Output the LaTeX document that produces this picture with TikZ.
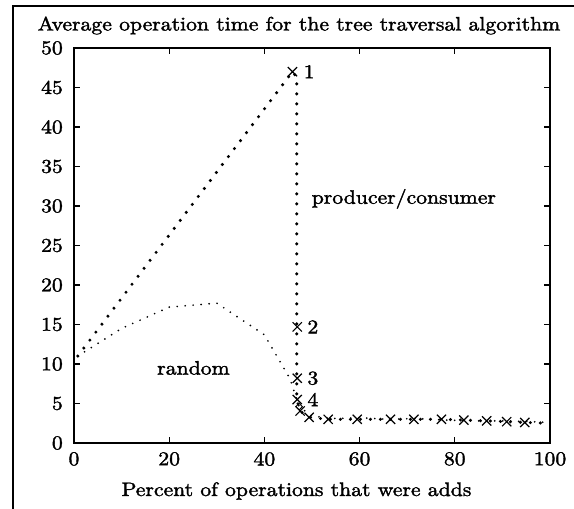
\documentclass[tikz,border=0pt]{standalone}
\usetikzlibrary{shapes.misc,shapes.geometric}
\newcommand\mylbl[1]{\scalebox{2.17}[1.95]{\special{pdf:literal direct 2 Tr 0.17 w}\fontsize{10}{12}\selectfont #1\special{pdf:literal direct 0 Tr}}}
\begin{document}
\begin{tikzpicture}[x=1pt,y=1pt,
  frameline/.style={line width=1.1pt},
  axisline/.style={line width=1.5pt},
  tickline/.style={line width=1.1pt},
  lbl/.style={inner sep=0pt},
  pcdots/.style={line width=3.4pt, line cap=round, dash pattern=on 0pt off 10pt},
  rddots/.style={line width=1.9pt, line cap=round, dash pattern=on 0pt off 8pt},
  xmark/.style={cross out, draw, minimum size=8pt, inner sep=0pt, line width=1.2pt},
  dmark/.style={diamond, draw, minimum size=7pt, inner sep=0pt, line width=0.9pt}]
\useasboundingbox (0,0) rectangle (574,509);
% outer frame
\draw[frameline] (13,0) -- (13,503) -- (574,503);
% title
\node[lbl, anchor=base] (title) at (299,478.5) {\mylbl{Average operation time for the tree traversal algorithm}};
% x label
\node[lbl, anchor=base] (xlabel) at (296.5,13) {\mylbl{Percent of operations that were adds}};
\begin{scope}[shift={(74pt,66pt)}, x=4.76pt, y=7.9pt]
  % axes box
  \draw[axisline] (0,0) rectangle (100,50);
  % ticks
  \foreach \t in {20,40,60,80} {
    \draw[tickline] (\t,0) -- ++(0,6pt);
    \draw[tickline] (\t,50) -- ++(0,-6pt);
  }
  \foreach \t in {5,10,...,45} {
    \draw[tickline] (0,\t) -- ++(6pt,0);
    \draw[tickline] (100,\t) -- ++(-6pt,0);
  }
  % tick labels
  \foreach \t in {0,5,...,50} {
    \node[lbl, anchor=east] (yl\t) at ([xshift=-11pt]0,\t) {\mylbl{\t}};
  }
  \foreach \t in {0,20,...,100} {
    \node[lbl, anchor=north] (xl\t) at ([yshift=-9pt]\t,0) {\mylbl{\t}};
  }
  % random curve
  \draw[rddots] (0.8,11.0) -- (10,14.5) -- (20,17.2) -- (30,17.7) -- (40,13.7)
     -- (45.4,8.1) -- (47.3,4.6) -- (50,3.4) -- (55,3.1) -- (60,3.2) -- (66,3.0)
     -- (72,3.1) -- (78,2.9) -- (84,2.8) -- (90,2.8) -- (96,2.7) -- (100,2.6);
  % producer/consumer curve
  \draw[pcdots] (0.8,11.0) -- (45.9,47.0) -- (46.8,46.3) -- (46.8,5.5) -- (47.5,4.05)
     -- (49.4,3.25) -- (53.4,3.0) -- (59.5,3.0) -- (66.5,3.0) -- (71.4,3.0) -- (77.2,3.0)
     -- (81.9,2.9) -- (86.7,2.8) -- (90.9,2.7) -- (94.7,2.6) -- (100,2.5);
  % markers
  \node[xmark] (m1) at (45.9,47.0) {};
  \node[xmark] (m2) at (46.9,14.7) {};
  \node[xmark] (m3) at (46.9,8.2) {};
  \node[xmark] (m4) at (46.9,5.5) {};
  \node[xmark] (m5) at (47.5,4.05) {};
  \node[xmark] (m6) at (49.4,3.25) {};
  \foreach \px/\py [count=\i from 7] in {53.4/3.0,59.5/3.0,66.5/3.0,71.4/3.0,77.2/3.0,81.9/2.9,86.7/2.8,90.9/2.7,94.7/2.6} {
    \node[xmark] (m\i) at (\px,\py) {};
  }
  \node[dmark] (d1) at (47.3,4.6) {};
  % point labels
  \node[lbl, anchor=west] (n1) at ([xshift=11pt]m1.center) {\mylbl{1}};
  \node[lbl, anchor=west] (n2) at ([xshift=10pt]m2.center) {\mylbl{2}};
  \node[lbl, anchor=west] (n3) at ([xshift=10pt]m3.center) {\mylbl{3}};
  \node[lbl, anchor=west] (n4) at ([xshift=10pt]m4.center) {\mylbl{4}};
  % curve labels
  \node[lbl] (pc) at (69.3,30.9) {\mylbl{producer/consumer}};
  \node[lbl] (rd) at (25.1,9.5) {\mylbl{random}};
\end{scope}
\end{tikzpicture}
\end{document}
